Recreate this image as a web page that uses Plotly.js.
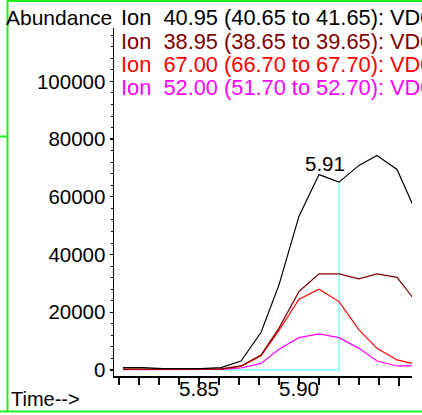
<!DOCTYPE html>
<html>
<head>
<meta charset="utf-8">
<script src="https://cdn.plot.ly/plotly-3.0.1.min.js"></script>
<style>html,body{margin:0;padding:0;background:#fff;}#chart{width:422px;height:415px;}</style>
</head>
<body>
<div id="chart"></div>
<script>
// Retention times (min)
const time = [5.812, 5.822, 5.832, 5.841, 5.851, 5.861, 5.871, 5.881, 5.890, 5.900, 5.910, 5.920, 5.930, 5.939, 5.949, 5.959];
// Abundances per ion
const ion4095 = [800, 800, 500, 500, 500, 800, 3100, 13000, 29500, 53300, 67700, 65100, 70900, 74300, 69500, 54000];
const ion3895 = [300, 300, 300, 300, 300, 400, 1400, 5200, 14500, 27200, 33300, 33300, 31600, 33300, 32100, 23200];
const ion6700 = [200, 200, 200, 200, 200, 300, 1200, 4900, 13700, 24500, 28000, 23700, 13900, 7500, 3500, 1900];
const ion5200 = [100, 100, 100, 100, 100, 200, 700, 2300, 7200, 11200, 12500, 11200, 7500, 3100, 1400, 1400];
const ionLabels = [
  "Ion  40.95 (40.65 to 41.65): VD0",
  "Ion  38.95 (38.65 to 39.65): VD0",
  "Ion  67.00 (66.70 to 67.70): VD0",
  "Ion  52.00 (51.70 to 52.70): VD0"
];
const ionColors = ["#000000", "#800000", "#ff0000", "#ff00ff"];
// x tick labels
const xTickVals = [5.85, 5.90, 5.95];
const xTickText = ["5.85", "5.90", ""];
const yTickVals = [0, 20000, 40000, 60000, 80000, 100000];
const yTickText = ["0", "20000", "40000", "60000", "80000", "100000"];
// Integration baseline / marker
const markTime = [5.861, 5.920, 5.920];
const markValue = [0, 0, 65100];
const peakLabel = "5.91";
const peakLabelTime = 5.913;
const peakLabelValue = 71500;
const yTitle = "Abundance";
const xTitle = "Time-->";

const series = [ion4095, ion3895, ion6700, ion5200];
const order = [3, 2, 1, 0];
const traces = [];
traces.push({x: markTime, y: markValue, mode: 'lines', line: {color: '#80ffff', width: 1.5}, hoverinfo: 'skip', showlegend: false});
order.forEach(i => {
  traces.push({x: time, y: series[i], mode: 'lines', line: {color: ionColors[i], width: 1.2}, showlegend: false});
});

const L = 114, R = 10, T = 28, B = 39, W = 422, H = 415;
const pw = W - L - R, ph = H - T - B;
const px = v => (v - L) / pw;
const py = v => (H - B - v) / ph;

const font = 'Liberation Sans, Arial, sans-serif';
const annotations = [];
ionLabels.forEach((t, i) => {
  annotations.push({xref: 'paper', yref: 'paper', x: px(119), y: py(18 + i * 23.2), xanchor: 'left', yanchor: 'middle',
    text: t, showarrow: false, font: {family: font, size: 21.8, color: ionColors[i]}});
});
annotations.push({xref: 'paper', yref: 'paper', x: px(114), y: py(17.5), xanchor: 'right', yanchor: 'middle',
  text: yTitle, showarrow: false, font: {family: font, size: 21, color: '#000'}});
annotations.push({xref: 'paper', yref: 'paper', x: px(8.5), y: py(399), xanchor: 'left', yanchor: 'middle',
  text: xTitle, showarrow: false, font: {family: font, size: 20, color: '#000'}});
annotations.push({x: peakLabelTime, y: peakLabelValue, xref: 'x', yref: 'y', xanchor: 'center', yanchor: 'middle',
  text: peakLabel, showarrow: false, font: {family: font, size: 20.5, color: '#000'}});

const green = '#22ee22';
const shapes = [
  {type: 'line', xref: 'paper', yref: 'paper', x0: px(7.5), x1: px(7.5), y0: py(0), y1: py(412), line: {color: green, width: 2}},
  {type: 'line', xref: 'paper', yref: 'paper', x0: px(7.5), x1: px(422), y0: py(1), y1: py(1), line: {color: green, width: 2}},
  {type: 'line', xref: 'paper', yref: 'paper', x0: px(0), x1: px(422), y0: py(411.5), y1: py(411.5), line: {color: green, width: 2}},
  {type: 'line', xref: 'paper', yref: 'paper', x0: px(0), x1: px(7.5), y0: py(136.5), y1: py(136.5), line: {color: green, width: 2}}
];

const layout = {
  width: W, height: H,
  margin: {l: L, r: R, t: T, b: B, pad: 0},
  paper_bgcolor: '#fff', plot_bgcolor: '#fff',
  showlegend: false,
  font: {family: font, size: 20, color: '#000'},
  xaxis: {
    range: [5.8075, 5.9565], showgrid: false, zeroline: false,
    showline: true, linecolor: '#000', linewidth: 1.5,
    ticks: 'outside', ticklen: 8, tickwidth: 1.5, tickcolor: '#000',
    tickmode: 'array', tickvals: xTickVals, ticktext: xTickText,
    ticklabelstandoff: -14,
    tickfont: {family: font, size: 20.5, color: '#000'},
    minor: {ticks: 'outside', ticklen: 7, tickwidth: 1.3, tickcolor: '#000', dtick: 0.01, tick0: 5.81, showgrid: false}
  },
  yaxis: {
    range: [-2080, 118500], showgrid: false, zeroline: false,
    showline: true, linecolor: '#000', linewidth: 1.5,
    ticks: 'outside', ticklen: 3, tickwidth: 1.3, tickcolor: '#000',
    tickmode: 'array', tickvals: yTickVals, ticktext: yTickText,
    tickfont: {family: font, size: 20.5, color: '#000'},
    minor: {ticks: 'outside', ticklen: 2, tickwidth: 1, tickcolor: '#000', dtick: 4000, tick0: 0, showgrid: false}
  },
  annotations: annotations,
  shapes: shapes
};

Plotly.newPlot('chart', traces, layout, {staticPlot: true, displayModeBar: false});
</script>
</body>
</html>
